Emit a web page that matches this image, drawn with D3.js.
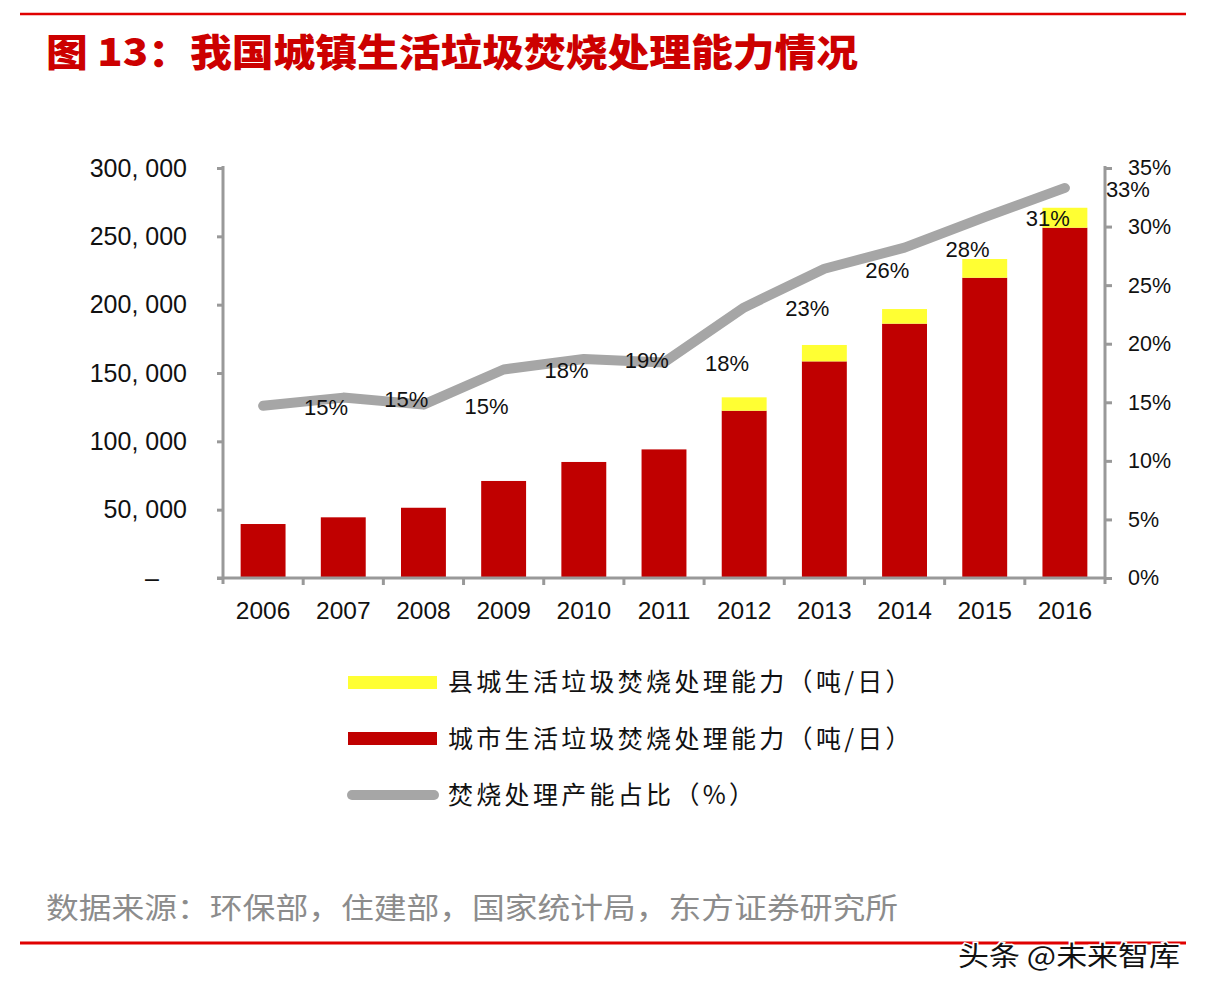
<!DOCTYPE html>
<html><head><meta charset="utf-8">
<script src="https://cdn.jsdelivr.net/npm/d3@7"></script>
<style>
html,body{margin:0;padding:0;background:#fff;}
svg{display:block;}
</style></head>
<body>
<svg id="chart" width="1206" height="998"></svg>
<script>
const years = ["2006","2007","2008","2009","2010","2011","2012","2013","2014","2015","2016"];
const cityCapacity = [39500,44400,51400,71000,84900,94100,122400,158500,186100,219700,256300];
const countyCapacity = [0,0,0,0,0,0,9800,12000,10700,13700,14600];
const incinerationShare = [0.147,0.154,0.148,0.178,0.187,0.184,0.231,0.264,0.282,0.308,0.333];
const leftTicks = [0,50000,100000,150000,200000,250000,300000];
const rightTicks = [0,0.05,0.10,0.15,0.20,0.25,0.30,0.35];
const legendLabels = ["县城生活垃圾焚烧处理能力（吨/日）","城市生活垃圾焚烧处理能力（吨/日）","焚烧处理产能占比（%）"];
const titleText = "图 13：我国城镇生活垃圾焚烧处理能力情况";
const sourceText = "数据来源：环保部，住建部，国家统计局，东方证券研究所";
const watermarkText = "头条 @未来智库";

const svg = d3.select("#chart");
const RED = "#c00000", YELLOW = "#ffff33", GRAY = "#a6a6a6", AXIS = "#999999";
const numFont = "'Liberation Sans', Arial, sans-serif";
const cjkFont = "'Noto Sans CJK SC', sans-serif";

// frame lines
svg.append("line").attr("x1",20).attr("x2",1186).attr("y1",14).attr("y2",14).attr("stroke","#e00000").attr("stroke-width",2.5);
svg.append("line").attr("x1",20).attr("x2",1186).attr("y1",943).attr("y2",943).attr("stroke","#e00000").attr("stroke-width",3);

// title
svg.append("text").attr("x",46).attr("y",66).attr("font-family",cjkFont).attr("font-weight",900)
  .attr("font-size",38).attr("fill","#cc0000").attr("textLength",812).attr("lengthAdjust","spacingAndGlyphs").text(titleText);

const x = d3.scaleBand().domain(years).range([223,1105]).paddingInner(0.44).paddingOuter(0.22);
const yL = d3.scaleLinear().domain([0,300000]).range([578,168]);
const yR = d3.scaleLinear().domain([0,0.35]).range([578,168]);

// bars
const g = svg.append("g");
g.selectAll("rect.city").data(years).join("rect").attr("class","city")
  .attr("x",d=>x(d)).attr("width",x.bandwidth())
  .attr("y",(d,i)=>yL(cityCapacity[i])).attr("height",(d,i)=>yL(0)-yL(cityCapacity[i]))
  .attr("fill",RED);
g.selectAll("rect.county").data(years).join("rect").attr("class","county")
  .attr("x",d=>x(d)).attr("width",x.bandwidth())
  .attr("y",(d,i)=>yL(cityCapacity[i]+countyCapacity[i])).attr("height",(d,i)=>yL(cityCapacity[i])-yL(cityCapacity[i]+countyCapacity[i]))
  .attr("fill",YELLOW);

// left axis
const leftAxis = d3.axisLeft(yL).tickValues(leftTicks).tickSize(6).tickPadding(30)
  .tickFormat(v => v===0 ? "–" : d3.format(",")(v).replace(",", ", "));
const la = svg.append("g").attr("transform","translate(223,0)").call(leftAxis);
la.select(".domain").attr("d","M0,166V584").attr("stroke",AXIS).attr("stroke-width",3);
la.selectAll(".tick line").attr("stroke",AXIS).attr("stroke-width",3);
la.selectAll(".tick text").attr("font-family",numFont).attr("font-size",25).attr("fill","#111");
la.selectAll(".tick text").filter(d=>d===0).attr("x",-64);

// right axis
const rightAxis = d3.axisRight(yR).tickValues(rightTicks).tickSize(7).tickPadding(16)
  .tickFormat(d3.format(".0%"));
const ra = svg.append("g").attr("transform","translate(1105,0)").call(rightAxis);
ra.select(".domain").attr("d","M0,166V584").attr("stroke",AXIS).attr("stroke-width",3);
ra.selectAll(".tick line").attr("stroke",AXIS).attr("stroke-width",3);
ra.selectAll(".tick text").attr("font-family",numFont).attr("font-size",21.5).attr("fill","#111");

// bottom axis
const bottomAxis = d3.axisBottom(x).tickSize(0).tickPadding(20);
const ba = svg.append("g").attr("transform","translate(0,578)").call(bottomAxis);
ba.select(".domain").attr("d","M217,0H1105").attr("stroke",AXIS).attr("stroke-width",3);
ba.selectAll(".tick text").attr("font-family",numFont).attr("font-size",24.5).attr("fill","#111").attr("dy","0.85em");
const step = x.step();
ba.selectAll("line.sep").data(d3.range(1,years.length)).join("line").attr("class","sep")
  .attr("x1",i=>223+i*step).attr("x2",i=>223+i*step).attr("y1",0).attr("y2",7)
  .attr("stroke",AXIS).attr("stroke-width",3);

// line
const cx = d => x(d) + x.bandwidth()/2;
const line = d3.line().x((d,i)=>cx(years[i])).y(d=>yR(d));
svg.append("path").datum(incinerationShare).attr("d",line).attr("fill","none")
  .attr("stroke",GRAY).attr("stroke-width",10).attr("stroke-linecap","round").attr("stroke-linejoin","round");

// labels
svg.selectAll("text.dl").data(incinerationShare).join("text").attr("class","dl")
  .attr("x",(d,i)=>cx(years[i])+63).attr("y",d=>yR(d)+9)
  .attr("text-anchor","middle").attr("font-family",numFont).attr("font-size",22).attr("fill","#111")
  .text(d=>d3.format(".0%")(d));

// legend
const lg = svg.append("g");
lg.append("rect").attr("x",348).attr("y",676).attr("width",89).attr("height",13).attr("fill",YELLOW);
lg.append("rect").attr("x",348).attr("y",732).attr("width",89).attr("height",13).attr("fill",RED);
lg.append("line").attr("x1",352).attr("x2",434).attr("y1",795).attr("y2",795).attr("stroke",GRAY).attr("stroke-width",10).attr("stroke-linecap","round");
const ly = [682,739,795];
lg.selectAll("text").data(legendLabels).join("text")
  .attr("x",448).attr("y",(d,i)=>ly[i]+9).attr("font-family",cjkFont).attr("font-size",25)
  .attr("letter-spacing","3.3px").attr("fill","#111").text(d=>d);

// source
svg.append("text").attr("x",46).attr("y",919).attr("font-family",cjkFont).attr("font-size",29)
  .attr("fill","#8c8c8c").attr("textLength",852).attr("lengthAdjust","spacingAndGlyphs").text(sourceText);

// watermark
svg.append("text").attr("x",958).attr("y",966).attr("font-family",cjkFont).attr("font-size",27)
  .attr("fill","#111").attr("stroke","#fff").attr("stroke-width",3).attr("paint-order","stroke")
  .attr("textLength",222).attr("lengthAdjust","spacingAndGlyphs").text(watermarkText);
</script>
</body></html>
